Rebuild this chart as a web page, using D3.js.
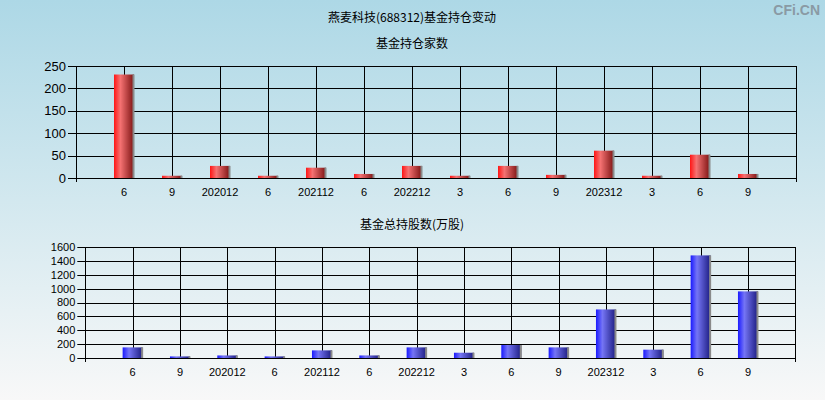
<!DOCTYPE html>
<html>
<head>
<meta charset="utf-8">
<script src="https://cdn.jsdelivr.net/npm/d3@7/dist/d3.min.js"></script>
<style>
  html, body { margin: 0; padding: 0; }
  svg { display: block; }
</style>
</head>
<body>
<svg id="chart" width="825" height="400"></svg>
<script>
// Reporting periods (x axis labels)
const periods = ["6", "9", "202012", "6", "202112", "6", "202212", "3", "6", "9", "202312", "3", "6", "9"];
// Number of funds holding the stock
const fundCounts = [231, 5, 27, 5, 23, 9, 27, 5, 27, 7, 61, 5, 52, 9];
// Total shares held by funds (10k shares)
const fundShares = [153, 23, 37, 23, 110, 37, 153, 76, 187, 153, 700, 120, 1479, 960];
// Axis ticks
const countTicks = [0, 50, 100, 150, 200, 250];
const shareTicks = [0, 200, 400, 600, 800, 1000, 1200, 1400, 1600];

const svg = d3.select("#chart");
const W = 825, H = 400;
const cjk = "'Noto Sans CJK SC', 'Noto Sans', sans-serif";
const latin = "'Liberation Sans', Arial, sans-serif";

const defs = svg.append("defs");
const bg = defs.append("linearGradient").attr("id", "bg").attr("x1", 0).attr("y1", 0).attr("x2", 0).attr("y2", 1);
bg.append("stop").attr("offset", "0%").attr("stop-color", "#add8e6");
bg.append("stop").attr("offset", "100%").attr("stop-color", "#f8f8f8");

function barGradient(id, c0, c1, c2) {
  const g = defs.append("linearGradient").attr("id", id).attr("x1", 0).attr("y1", 0).attr("x2", 1).attr("y2", 0);
  g.append("stop").attr("offset", "0%").attr("stop-color", c0);
  g.append("stop").attr("offset", "32%").attr("stop-color", c1);
  g.append("stop").attr("offset", "100%").attr("stop-color", c2);
}
barGradient("redBar", "#ff1515", "#f57272", "#7c1212");
barGradient("blueBar", "#1a1aff", "#7575f5", "#1c1c80");

svg.append("rect").attr("width", W).attr("height", H).attr("fill", "url(#bg)");

svg.append("text").attr("x", 412).attr("y", 22).attr("text-anchor", "middle")
  .attr("font-family", cjk).attr("font-size", 12).attr("fill", "#000")
  .text("燕麦科技(688312)基金持仓变动");
svg.append("text").attr("x", 820).attr("y", 15).attr("text-anchor", "end")
  .attr("font-family", latin).attr("font-size", 14).attr("font-weight", "bold").attr("fill", "#8a9aa4")
  .text("CFi.CN");

function drawPanel(opt) {
  const { left, right, top, bottom, values, ticks, yMax, grad, title, titleY, yFont } = opt;
  const x = d3.scaleLinear().domain([0, periods.length + 1]).range([left, right]);
  const y = d3.scaleLinear().domain([0, yMax]).range([bottom, top]);
  const g = svg.append("g");

  g.append("text").attr("x", 412).attr("y", titleY).attr("text-anchor", "middle")
    .attr("font-family", cjk).attr("font-size", 12).attr("fill", "#000").text(title);

  // horizontal grid
  g.selectAll("line.h").data(ticks).join("line")
    .attr("x1", left - 8).attr("x2", right)
    .attr("y1", d => Math.round(y(d)) + 0.5).attr("y2", d => Math.round(y(d)) + 0.5)
    .attr("stroke", "#000").attr("stroke-width", 1);
  // vertical grid at each period
  g.selectAll("line.v").data(periods).join("line")
    .attr("x1", (d, i) => Math.round(x(i + 1)) + 0.5).attr("x2", (d, i) => Math.round(x(i + 1)) + 0.5)
    .attr("y1", top).attr("y2", bottom)
    .attr("stroke", "#000").attr("stroke-width", 1);
  // frame
  g.append("rect").attr("x", Math.round(left) + 0.5).attr("y", Math.round(top) + 0.5)
    .attr("width", Math.round(right) - Math.round(left)).attr("height", Math.round(bottom) - Math.round(top))
    .attr("fill", "none").attr("stroke", "#000").attr("stroke-width", 1);
  // end ticks below axis
  [0, periods.length + 1].forEach(k => {
    g.append("line").attr("x1", Math.round(x(k)) + 0.5).attr("x2", Math.round(x(k)) + 0.5)
      .attr("y1", bottom).attr("y2", bottom + 4).attr("stroke", "#000");
  });

  // bars
  const bw = 20;
  g.selectAll("rect.bar").data(values).join("rect")
    .attr("x", (d, i) => x(i + 1) - bw / 2).attr("width", bw)
    .attr("y", d => y(d)).attr("height", d => y(0) - y(d))
    .attr("fill", `url(#${grad})`);
  g.selectAll("rect.edge").data(values).join("rect")
    .attr("x", (d, i) => x(i + 1) + bw / 2 - 1.5).attr("width", 2)
    .attr("y", d => y(d)).attr("height", d => y(0) - y(d))
    .attr("fill", "#8a8a8a");

  // y tick labels
  g.selectAll("text.yl").data(ticks).join("text")
    .attr("x", left - 10).attr("y", d => y(d)).attr("dy", "0.36em")
    .attr("text-anchor", "end").attr("font-family", latin).attr("font-size", yFont)
    .attr("fill", "#000").text(d => d);
  // x tick labels
  g.selectAll("text.xl").data(periods).join("text")
    .attr("x", (d, i) => x(i + 1)).attr("y", bottom + 18)
    .attr("text-anchor", "middle").attr("font-family", latin).attr("font-size", 11)
    .attr("fill", "#000").text(d => d);
}

drawPanel({ left: 76, right: 796, top: 66, bottom: 178, values: fundCounts, ticks: countTicks,
  yMax: 250, grad: "redBar", title: "基金持仓家数", titleY: 48, yFont: 13 });
drawPanel({ left: 85.3, right: 795.3, top: 247, bottom: 358, values: fundShares, ticks: shareTicks,
  yMax: 1600, grad: "blueBar", title: "基金总持股数(万股)", titleY: 229, yFont: 11 });
</script>
</body>
</html>
